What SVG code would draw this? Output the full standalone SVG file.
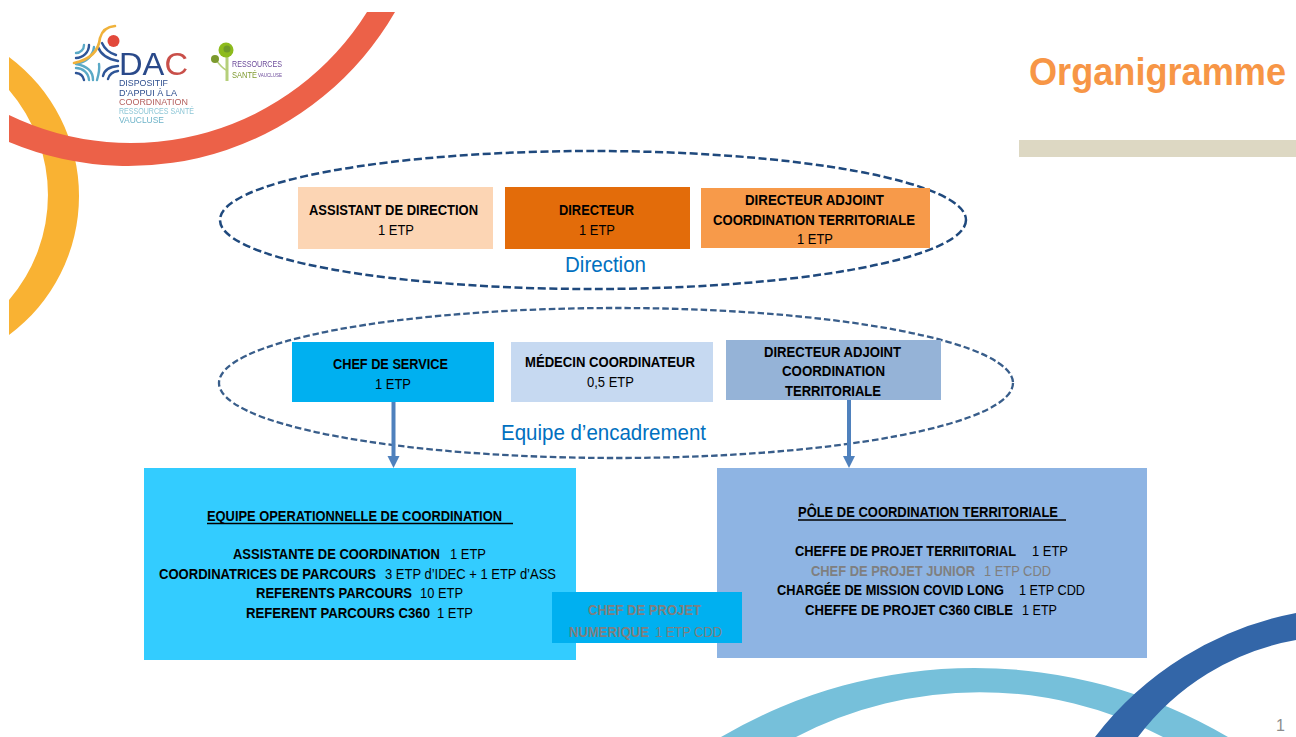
<svg xmlns="http://www.w3.org/2000/svg" width="1296" height="737" viewBox="0 0 1296 737">
<style>
text{font-family:"Liberation Sans",Arial,sans-serif;font-size:14px;fill:#000}
.b{font-weight:700}
.g{fill:#7f7f7f}
.lab{font-size:22px;fill:#0070c0}
.d{fill:#2f4f8f;font-size:9px}
.e{fill:none;stroke:#1f497d;stroke-width:2.5;stroke-dasharray:8 3.5}
.e2{fill:none;stroke:#385d8a;stroke-width:2.3;stroke-dasharray:6.5 3}
.c{fill:none;stroke:#4f81bd;stroke-width:4;marker-end:url(#ah)}
.tl{stroke:#000;stroke-width:1.3}
.n{fill:none;stroke:#2f5597;stroke-width:2.4;stroke-linecap:round}
.t{fill:none;stroke:#5aa9c6;stroke-width:2.4;stroke-linecap:round}
</style>
<defs>
<marker id="ah" markerUnits="userSpaceOnUse" markerWidth="13" markerHeight="14" refX="6" refY="6" orient="auto"><path d="M0,0L12,6L0,12Z" fill="#4f81bd"/></marker>
<filter id="soft" x="-5%" y="-5%" width="110%" height="110%"><feGaussianBlur stdDeviation="0.55"/></filter>
<clipPath id="page"><rect x="9" y="12" width="1287" height="725"/></clipPath>
</defs>
<rect width="1296" height="737" fill="#fff"/>
<g id="decor" clip-path="url(#page)">
<path d="M9,57A173,173 0 0 1 9,335L9,300A161,161 0 0 0 9,90Z" fill="#f9b233"/>
<path d="M367,12A278.6,278.6 0 0 1 9,115L9,142A308,308 0 0 0 395,12Z" fill="#ec6148"/>
<path d="M721,737A500,500 0 0 1 1228,737L1163,737A398,398 0 0 0 796,737Z" fill="#76c0da"/>
<path d="M1095,737A333.700,333.700 0 0 1 1296,613L1296,640A252,252 0 0 0 1138,737Z" fill="#3366a8"/>
</g>
<g id="logo-dac" filter="url(#soft)">
<path class="t" d="M84,45A8,8 0 0 1 76,53"/>
<path class="n" d="M89,45A13,13 0 0 1 76,58"/>
<path class="t" d="M94,47A18,18 0 0 1 78,63"/>
<path class="n" d="M102,43Q106,52 116,55"/>
<path class="n" d="M98,47Q102,58 118,61"/>
<path class="n" d="M103,76Q105,67 118,66"/>
<path class="n" d="M108,79Q110,72 118,71"/>
<path class="t" d="M76,68A13,13 0 0 1 89,80"/>
<path class="n" d="M76,73A9,9 0 0 1 84,80"/>
<path class="t" d="M93,80Q93,67 76,64"/>
<path class="t" d="M97,80Q100,70 99,64"/>
<path fill="none" stroke="#f0b23a" stroke-width="2.6" stroke-linecap="round" d="M115,26Q103,27 100,38Q98,58 74,63"/>
<circle cx="113.500" cy="41" r="6" fill="#e2493b"/>
<text x="119" y="75" textLength="69" lengthAdjust="spacingAndGlyphs" style="font-size:31px;fill:#2a4a8a">DA<tspan style="fill:#c9504a">C</tspan></text>
<text class="d" x="119" y="86" textLength="49" lengthAdjust="spacingAndGlyphs">DISPOSITIF</text>
<text class="d" x="119" y="96" textLength="58" lengthAdjust="spacingAndGlyphs">D'APPUI À LA</text>
<text class="d" x="119" y="105" textLength="69" lengthAdjust="spacingAndGlyphs" style="fill:#b5615f">COORDINATION</text>
<text class="d" x="119" y="114" textLength="75" lengthAdjust="spacingAndGlyphs" style="fill:#8cc6d6">RESSOURCES SANTÉ</text>
<text class="d" x="119" y="123" textLength="45" lengthAdjust="spacingAndGlyphs" style="fill:#6fb4c9">VAUCLUSE</text>
</g>
<g id="logo-ressources" filter="url(#soft)">
<rect x="225.500" y="56" width="3" height="25" fill="#b5cf7a"/>
<path d="M216,60Q222,68 226,70" fill="none" stroke="#b5cf7a" stroke-width="1.500"/>
<circle cx="226" cy="50" r="7.500" fill="#8dbb1e"/>
<circle cx="227" cy="49" r="3.500" fill="#6f9a2a"/>
<circle cx="215" cy="59" r="4" fill="#7c9a2e"/>
<text x="232" y="67" style="font-size:9px;fill:#6b4a9a" textLength="50" lengthAdjust="spacingAndGlyphs">RESSOURCES</text>
<text x="232" y="78" style="font-size:9px;fill:#7f9a30" textLength="25" lengthAdjust="spacingAndGlyphs">SANTÉ</text>
<text x="258" y="77" style="font-size:5px;fill:#6b4a9a" textLength="24" lengthAdjust="spacingAndGlyphs">VAUCLUSE</text>
</g>
<g id="title">
<text x="1029" y="85" class="b" style="font-size:38.5px;fill:#f79646" textLength="257" lengthAdjust="spacingAndGlyphs">Organigramme</text>
<rect x="1019" y="140" width="277" height="17" fill="#ddd8c3"/>
</g>
<g id="group-direction">
<ellipse class="e" cx="593" cy="220" rx="373" ry="69"/>
<text class="lab" x="565" y="272" textLength="81" lengthAdjust="spacingAndGlyphs">Direction</text>
</g>
<g id="group-encadrement">
<ellipse class="e2" cx="616" cy="383" rx="397" ry="75"/>
<text class="lab" x="501" y="440" textLength="205" lengthAdjust="spacingAndGlyphs">Equipe d’encadrement</text>
</g>
<g id="assistant-direction">
<rect x="298" y="187" width="195" height="62" fill="#fcd5b4"/>
<text class="b" x="309" y="214.500" textLength="169" lengthAdjust="spacingAndGlyphs">ASSISTANT DE DIRECTION</text>
<text x="378" y="234.500" textLength="36" lengthAdjust="spacingAndGlyphs">1 ETP</text>
</g>
<g id="directeur">
<rect x="505" y="187" width="185" height="62" fill="#e36c0a"/>
<text class="b" x="559" y="214.500" textLength="75" lengthAdjust="spacingAndGlyphs">DIRECTEUR</text>
<text x="579" y="234.500" textLength="36" lengthAdjust="spacingAndGlyphs">1 ETP</text>
</g>
<g id="directeur-adjoint">
<rect x="701" y="188" width="229" height="60" fill="#f79a4a"/>
<text class="b" x="745" y="204.500" textLength="139" lengthAdjust="spacingAndGlyphs">DIRECTEUR ADJOINT</text>
<text class="b" x="713" y="224.500" textLength="202" lengthAdjust="spacingAndGlyphs">COORDINATION TERRITORIALE</text>
<text x="797" y="243.500" textLength="36" lengthAdjust="spacingAndGlyphs">1 ETP</text>
</g>
<g id="chef-service">
<rect x="292" y="342" width="202" height="60" fill="#00b0f0"/>
<text class="b" x="333" y="369" textLength="115" lengthAdjust="spacingAndGlyphs">CHEF DE SERVICE</text>
<text x="375" y="389" textLength="36" lengthAdjust="spacingAndGlyphs">1 ETP</text>
</g>
<g id="medecin">
<rect x="511" y="342" width="202" height="60" fill="#c6d9f1"/>
<text class="b" x="525" y="367" textLength="170" lengthAdjust="spacingAndGlyphs">MÉDECIN COORDINATEUR</text>
<text x="587" y="387" textLength="47" lengthAdjust="spacingAndGlyphs">0,5 ETP</text>
</g>
<g id="directeur-adjoint-2">
<rect x="726" y="340" width="215" height="60" fill="#95b3d7"/>
<text class="b" x="764" y="357" textLength="137" lengthAdjust="spacingAndGlyphs">DIRECTEUR ADJOINT</text>
<text class="b" x="782" y="376" textLength="103" lengthAdjust="spacingAndGlyphs">COORDINATION</text>
<text class="b" x="785" y="396" textLength="96" lengthAdjust="spacingAndGlyphs">TERRITORIALE</text>
</g>
<g id="equipe-operationnelle">
<rect x="144" y="468" width="432" height="192" fill="#33ccff"/>
<text class="b" x="207" y="521" textLength="295" lengthAdjust="spacingAndGlyphs">EQUIPE OPERATIONNELLE DE COORDINATION</text>
<line class="tl" x1="207" y1="523.500" x2="513" y2="523.500"/>
<text y="559"><tspan class="b" x="233" textLength="207" lengthAdjust="spacingAndGlyphs">ASSISTANTE DE COORDINATION</tspan><tspan x="450" textLength="36" lengthAdjust="spacingAndGlyphs">1 ETP</tspan></text>
<text y="579"><tspan class="b" x="159" textLength="217" lengthAdjust="spacingAndGlyphs">COORDINATRICES DE PARCOURS</tspan><tspan x="385" textLength="171" lengthAdjust="spacingAndGlyphs">3 ETP d’IDEC + 1 ETP d’ASS</tspan></text>
<text y="598"><tspan class="b" x="256" textLength="156" lengthAdjust="spacingAndGlyphs">REFERENTS PARCOURS</tspan><tspan x="420" textLength="43" lengthAdjust="spacingAndGlyphs">10 ETP</tspan></text>
<text y="618"><tspan class="b" x="246" textLength="184" lengthAdjust="spacingAndGlyphs">REFERENT PARCOURS C360</tspan><tspan x="437" textLength="36" lengthAdjust="spacingAndGlyphs">1 ETP</tspan></text>
</g>
<g id="pole-coordination">
<rect x="717" y="468" width="430" height="190" fill="#8eb4e3"/>
<text class="b" x="798" y="517" textLength="260" lengthAdjust="spacingAndGlyphs">PÔLE DE COORDINATION TERRITORIALE</text>
<line class="tl" x1="798" y1="520" x2="1066" y2="520"/>
<text y="556"><tspan class="b" x="795" textLength="221" lengthAdjust="spacingAndGlyphs">CHEFFE DE PROJET TERRIITORIAL</tspan><tspan x="1032" textLength="36" lengthAdjust="spacingAndGlyphs">1 ETP</tspan></text>
<text y="576"><tspan class="b g" x="811" textLength="164" lengthAdjust="spacingAndGlyphs">CHEF DE PROJET JUNIOR</tspan><tspan class="g" x="984" textLength="67" lengthAdjust="spacingAndGlyphs">1 ETP CDD</tspan></text>
<text y="595"><tspan class="b" x="777" textLength="227" lengthAdjust="spacingAndGlyphs">CHARGÉE DE MISSION COVID LONG</tspan><tspan x="1019" textLength="66" lengthAdjust="spacingAndGlyphs">1 ETP CDD</tspan></text>
<text y="615"><tspan class="b" x="805" textLength="208" lengthAdjust="spacingAndGlyphs">CHEFFE DE PROJET C360 CIBLE</tspan><tspan x="1022" textLength="35" lengthAdjust="spacingAndGlyphs">1 ETP</tspan></text>
</g>
<g id="chef-projet-numerique">
<rect x="552" y="592" width="190" height="51" fill="#00b0f0"/>
<text class="b g" x="588" y="615" textLength="113" lengthAdjust="spacingAndGlyphs">CHEF DE PROJET</text>
<text y="637"><tspan class="b g" x="569" textLength="80" lengthAdjust="spacingAndGlyphs">NUMERIQUE</tspan><tspan class="g" x="655" textLength="67" lengthAdjust="spacingAndGlyphs">1 ETP CDD</tspan></text>
</g>
<g id="connectors">
<line class="c" x1="393.500" y1="402" x2="393.500" y2="462"/>
<line class="c" x1="849" y1="400" x2="849" y2="462"/>
</g>
<g id="page-number"><text x="1276" y="731" style="font-size:16px;fill:#8c8c8c">1</text></g>
</svg>
